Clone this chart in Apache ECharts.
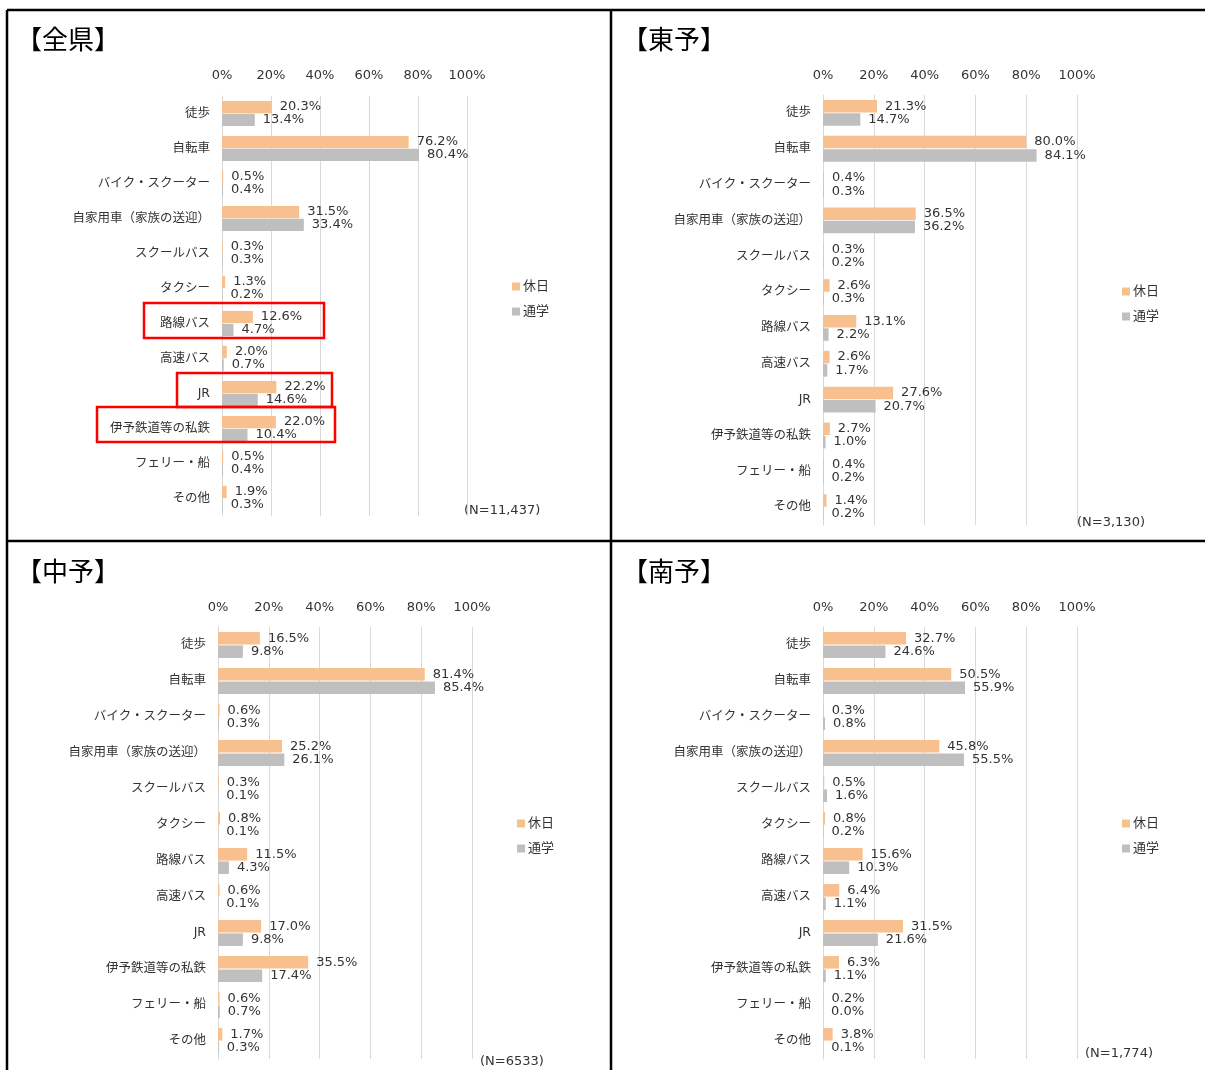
<!DOCTYPE html>
<html>
<head>
    <meta charset="utf-8">
    <script src="https://cdn.jsdelivr.net/npm/echarts@6/dist/echarts.min.js"></script>
    <style>
        body { margin: 0; background: #fff; }
    </style>
</head>
<body>
    <div id="main" style="width: 1205px;height:1070px;"></div>

    <script type="text/javascript">
        // 交通手段（カテゴリ）
        var categories = ['徒歩', '自転車', 'バイク・スクーター', '自家用車（家族の送迎）', 'スクールバス',
            'タクシー', '路線バス', '高速バス', 'JR', '伊予鉄道等の私鉄', 'フェリー・船', 'その他'];
        var xTicks = [0, 20, 40, 60, 80, 100];

        // 全県
        var zenkenHoliday = [20.3, 76.2, 0.5, 31.5, 0.3, 1.3, 12.6, 2.0, 22.2, 22.0, 0.5, 1.9];
        var zenkenSchool = [13.4, 80.4, 0.4, 33.4, 0.3, 0.2, 4.7, 0.7, 14.6, 10.4, 0.4, 0.3];
        // 東予
        var toyoHoliday = [21.3, 80.0, 0.4, 36.5, 0.3, 2.6, 13.1, 2.6, 27.6, 2.7, 0.4, 1.4];
        var toyoSchool = [14.7, 84.1, 0.3, 36.2, 0.2, 0.3, 2.2, 1.7, 20.7, 1.0, 0.2, 0.2];
        // 中予
        var chuyoHoliday = [16.5, 81.4, 0.6, 25.2, 0.3, 0.8, 11.5, 0.6, 17.0, 35.5, 0.6, 1.7];
        var chuyoSchool = [9.8, 85.4, 0.3, 26.1, 0.1, 0.1, 4.3, 0.1, 9.8, 17.4, 0.7, 0.3];
        // 南予
        var nanyoHoliday = [32.7, 50.5, 0.3, 45.8, 0.5, 0.8, 15.6, 6.4, 31.5, 6.3, 0.2, 3.8];
        var nanyoSchool = [24.6, 55.9, 0.8, 55.5, 1.6, 0.2, 10.3, 1.1, 21.6, 1.1, 0.0, 0.1];

        var FONT = "'DejaVu Sans', 'Noto Sans CJK JP', sans-serif";
        var ORANGE = '#F9C08F';
        var GRAY = '#BFBFBF';
        var TEXT = '#333333';

        var panels = [
            { title: '【全県】', n: '(N=11,437)', holiday: zenkenHoliday, school: zenkenSchool,
              grid: { left: 222, top: 96, width: 245, height: 420 }, tickMargin: 14,
              legend: { left: 507, top: 275 }, nPos: [464, 512], titlePos: [16, 40] },
            { title: '【東予】', n: '(N=3,130)', holiday: toyoHoliday, school: toyoSchool,
              grid: { left: 823, top: 95, width: 254, height: 430 }, tickMargin: 13,
              legend: { left: 1117, top: 280 }, nPos: [1077, 524], titlePos: [622, 40] },
            { title: '【中予】', n: '(N=6533)', holiday: chuyoHoliday, school: chuyoSchool,
              grid: { left: 218, top: 627, width: 254, height: 432 }, tickMargin: 13,
              legend: { left: 512, top: 812 }, nPos: [480, 1063], titlePos: [16, 572] },
            { title: '【南予】', n: '(N=1,774)', holiday: nanyoHoliday, school: nanyoSchool,
              grid: { left: 823, top: 627, width: 254, height: 432 }, tickMargin: 13,
              legend: { left: 1117, top: 812 }, nPos: [1085, 1055], titlePos: [622, 572] }
        ];

        var grids = [], xAxes = [], yAxes = [], series = [], legends = [], graphics = [];

        function pctLabel(p) {
            return p.value.toFixed(1) + '%';
        }

        panels.forEach(function(p, i) {
            grids.push(p.grid);
            xAxes.push({
                gridIndex: i,
                type: 'value',
                position: 'top',
                min: 0,
                max: 100,
                interval: 20,
                axisLine: { show: false },
                axisTick: { show: false },
                splitLine: { lineStyle: { color: '#d9d9d9' } },
                axisLabel: {
                    margin: p.tickMargin,
                    fontSize: 13,
                    fontFamily: FONT,
                    color: TEXT,
                    formatter: '{value}%'
                }
            });
            yAxes.push({
                gridIndex: i,
                type: 'category',
                inverse: true,
                data: categories,
                axisLine: { lineStyle: { color: '#d9d9d9' } },
                axisTick: { length: 5, lineStyle: { color: '#d9d9d9' } },
                axisLabel: {
                    margin: 12,
                    fontSize: 12.5,
                    fontFamily: FONT,
                    color: TEXT
                }
            });
            var lbl = {
                show: true,
                position: 'right',
                distance: 8,
                fontSize: 13,
                fontFamily: FONT,
                color: TEXT,
                formatter: pctLabel
            };
            series.push({
                name: '休日',
                type: 'bar',
                xAxisIndex: i,
                yAxisIndex: i,
                data: p.holiday,
                itemStyle: { color: ORANGE },
                barGap: '6%',
                barCategoryGap: '28%',
                label: lbl,
                silent: true
            });
            series.push({
                name: '通学',
                type: 'bar',
                xAxisIndex: i,
                yAxisIndex: i,
                data: p.school,
                itemStyle: { color: GRAY },
                barGap: '6%',
                barCategoryGap: '28%',
                label: lbl,
                silent: true
            });
            legends.push({
                left: p.legend.left,
                top: p.legend.top,
                orient: 'vertical',
                icon: 'rect',
                itemWidth: 8,
                itemHeight: 8,
                itemGap: 12,
                data: ['休日', '通学'],
                textStyle: { fontSize: 13, fontFamily: FONT, color: TEXT, padding: [0, 0, 0, -2] }
            });
            graphics.push({
                type: 'text',
                left: p.titlePos[0],
                top: p.titlePos[1] - 14,
                style: { text: p.title, fontSize: 26, fontWeight: 'normal', fontFamily: "'Noto Sans CJK JP', sans-serif", fill: '#000' }
            });
            graphics.push({
                type: 'text',
                left: p.nPos[0],
                top: p.nPos[1] - 8,
                style: { text: p.n, fontSize: 13, fontFamily: FONT, fill: TEXT }
            });
        });

        // 枠線
        var frame = [
            [7, 10, 1205, 10],
            [7, 541, 1205, 541],
            [7, 10, 7, 1070],
            [611, 10, 611, 1070]
        ];
        frame.forEach(function(f) {
            graphics.push({
                type: 'line',
                shape: { x1: f[0], y1: f[1], x2: f[2], y2: f[3] },
                style: { stroke: '#000', lineWidth: 2.5 }
            });
        });

        // 赤枠（全県）
        var redBoxes = [
            [144, 303, 180, 35],
            [177, 373, 155, 34],
            [97, 407, 238, 35]
        ];
        redBoxes.forEach(function(b) {
            graphics.push({
                type: 'rect',
                shape: { x: b[0], y: b[1], width: b[2], height: b[3] },
                style: { fill: null, stroke: '#ff0000', lineWidth: 2.5 },
                z: 100
            });
        });

        var myChart = echarts.init(document.getElementById('main'));
        var option = {
            animation: false,
            grid: grids,
            xAxis: xAxes,
            yAxis: yAxes,
            legend: legends,
            series: series,
            graphic: graphics
        };
        myChart.setOption(option);
    </script>
</body>
</html>
